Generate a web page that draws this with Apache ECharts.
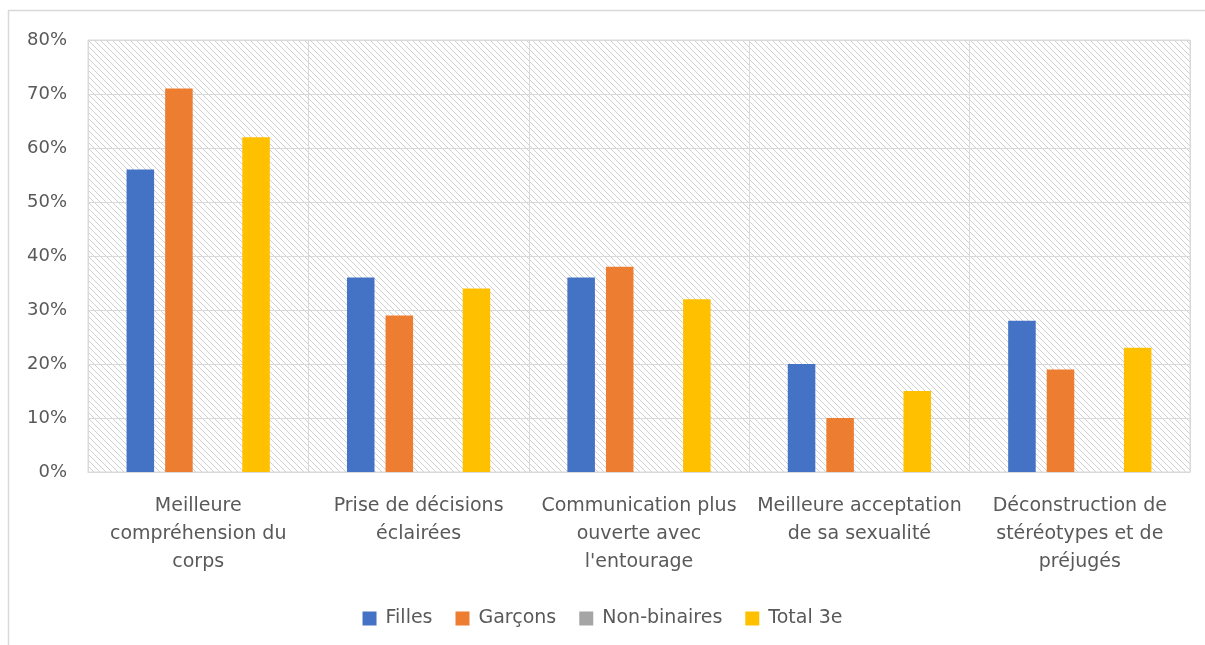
<!DOCTYPE html>
<html>
<head>
<meta charset="utf-8">
<script src="https://cdn.jsdelivr.net/npm/echarts@6/dist/echarts.min.js"></script>
<style>
	html, body { margin: 0; padding: 0; background: #fff; }
	#chart { width: 1205px; height: 645px; }
</style>
</head>
<body>
<div id="chart"></div>
<script>
const categories = [
	'Meilleure\ncompréhension du\ncorps',
	'Prise de décisions\néclairées',
	'Communication plus\nouverte avec\nl\'entourage',
	'Meilleure acceptation\nde sa sexualité',
	'Déconstruction de\nstéréotypes et de\npréjugés'
];
const seriesNames = ['Filles', 'Garçons', 'Non-binaires', 'Total 3e'];
const filles = [56, 36, 36, 20, 28];
const garcons = [71, 29, 38, 10, 19];
const nonBinaires = [0, 0, 0, 0, 0];
const total3e = [62, 34, 32, 15, 23];
const colors = ['#4472c4', '#ed7d31', '#a5a5a5', '#ffc000'];

// hatch tile for the plot background
function hatchTile() {
	let c = document.createElement('canvas');
	c.width = 6;
	c.height = 6;
	let ctx = c.getContext('2d');
	ctx.fillStyle = '#ffffff';
	ctx.fillRect(0, 0, 6, 6);
	ctx.strokeStyle = '#d0d0d0';
	ctx.lineWidth = 1;
	ctx.beginPath();
	ctx.moveTo(-1, -1); ctx.lineTo(7, 7);
	ctx.moveTo(-7, -1); ctx.lineTo(1, 7);
	ctx.moveTo(5, -1); ctx.lineTo(13, 7);
	ctx.stroke();
	return c;
}

const font = 'DejaVu Sans';
var myChart = echarts.init(document.getElementById('chart'));
var option = {
	backgroundColor: '#ffffff',
	animation: false,
	textStyle: { fontFamily: font },
	graphic: [{
		type: 'rect',
		shape: { x: 8.5, y: 10.5, width: 1210, height: 650 },
		style: { fill: 'none', stroke: '#d9d9d9', lineWidth: 1.5 },
		silent: true
	}],
	grid: {
		left: 88,
		right: 15,
		top: 40,
		bottom: 173,
		show: true,
		backgroundColor: { image: hatchTile(), repeat: 'repeat' },
		borderColor: '#d9d9d9',
		borderWidth: 1
	},
	legend: {
		bottom: 12,
		left: 'center',
		itemWidth: 14,
		itemHeight: 14,
		itemGap: 23,
		icon: 'rect',
		textStyle: { color: '#595959', fontSize: 19, fontFamily: font, padding: [0, 0, 0, 4] },
		data: seriesNames
	},
	xAxis: {
		type: 'category',
		data: categories,
		axisLine: { show: true, lineStyle: { color: '#d9d9d9', width: 1 } },
		axisTick: { show: false },
		splitLine: { show: true, lineStyle: { color: '#d9d9d9', width: 1 } },
		axisLabel: {
			color: '#595959',
			fontSize: 19,
			lineHeight: 28,
			margin: 20,
			interval: 0,
			fontFamily: font
		}
	},
	yAxis: {
		type: 'value',
		min: 0,
		max: 80,
		interval: 10,
		axisLine: { show: false },
		axisTick: { show: false },
		splitLine: { lineStyle: { color: '#d9d9d9', width: 1 } },
		axisLabel: {
			color: '#595959',
			fontSize: 18,
			margin: 21,
			formatter: '{value}%',
			fontFamily: font
		}
	},
	series: [
		{ name: seriesNames[0], type: 'bar', data: filles },
		{ name: seriesNames[1], type: 'bar', data: garcons },
		{ name: seriesNames[2], type: 'bar', data: nonBinaires },
		{ name: seriesNames[3], type: 'bar', data: total3e }
	].map((s, i) => Object.assign(s, {
		itemStyle: { color: colors[i] },
		barGap: '40%',
		barCategoryGap: '35%'
	}))
};
myChart.setOption(option);
</script>
</body>
</html>
